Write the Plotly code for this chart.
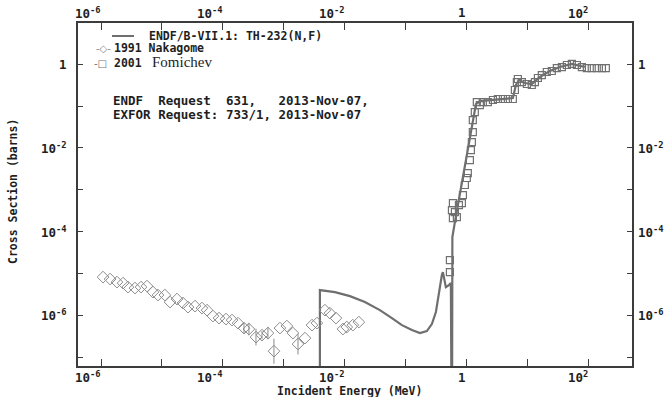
import numpy as np
import plotly.graph_objects as go

# ---------------- data ----------------
# ENDF/B-VII.1 Th-232 (n,f) evaluated curve (MeV, barns); 1e-10 marks drops to zero
endf_e = [0.00394, 0.00394, 0.00695, 0.01227, 0.0216, 0.0381, 0.0600, 0.0876, 0.128, 0.173,
          0.225, 0.272, 0.317, 0.355, 0.397, 0.413, 0.462, 0.518, 0.558, 0.581, 0.591,
          0.650, 0.728, 0.815, 0.914, 1.02, 1.146, 1.28, 1.44, 1.67, 2.44, 4.31, 5.83,
          6.53, 7.31, 9.17, 11.9, 16.2, 23.6, 34.4, 54.2, 88.5]
endf_xs = [1e-10, 3.98e-6, 3.57e-6, 2.86e-6, 2.06e-6, 1.32e-6, 8.53e-7, 5.79e-7, 4.40e-7, 3.73e-7,
           4.17e-7, 6.12e-7, 1.19e-6, 3.57e-6, 9.12e-6, 1.07e-5, 4.70e-6, 5.25e-6, 5.86e-6, 1e-10, 7.40e-5,
           1.69e-4, 4.30e-4, 1.10e-3, 2.65e-3, 6.76e-3, 1.73e-2, 5.19e-2, 0.112, 0.132, 0.140, 0.148, 0.156,
           0.320, 0.421, 0.357, 0.338, 0.497, 0.692, 0.861, 1.02, 0.861]

# 1991 Nakagome
nak_e = [1.08e-6, 1.41e-6, 1.83e-6, 2.30e-6, 2.77e-6, 3.61e-6, 4.54e-6, 5.69e-6, 7.14e-6, 8.63e-6,
         1.12e-5, 1.36e-5, 1.77e-5, 2.22e-5, 2.69e-5, 3.50e-5, 4.55e-5, 5.51e-5, 6.90e-5, 8.67e-5,
         1.13e-4, 1.42e-4, 1.78e-4, 2.23e-4, 2.69e-4, 3.51e-4, 4.41e-4, 5.52e-4, 6.93e-4, 8.69e-4,
         1.13e-3, 1.42e-3, 1.72e-3, 2.24e-3, 2.92e-3, 3.52e-3, 4.76e-3, 5.75e-3, 7.23e-3, 9.42e-3,
         1.09e-2, 1.37e-2, 1.72e-2]
nak_xs = [8.15e-6, 7.31e-6, 6.19e-6, 5.86e-6, 4.70e-6, 4.45e-6, 4.70e-6, 4.97e-6, 3.57e-6, 3.03e-6,
          3.03e-6, 2.06e-6, 2.43e-6, 1.95e-6, 1.56e-6, 1.65e-6, 1.48e-6, 1.32e-6, 9.53e-7, 8.53e-7,
          8.07e-7, 7.64e-7, 6.47e-7, 4.92e-7, 4.66e-7, 2.99e-7, 3.34e-7, 3.73e-7, 1.38e-7, 4.92e-7,
          5.50e-7, 3.73e-7, 2.04e-7, 2.83e-7, 5.79e-7, 6.47e-7, 1.32e-6, 1.12e-6, 8.53e-7, 4.66e-7,
          5.20e-7, 5.79e-7, 6.84e-7]
# uncertainty in decades (log10 half-width)
nak_err_dec = [0, 0, 0, 0, 0, 0, 0, 0, 0, 0,
               0, 0, 0, 0, 0, 0, 0, 0, 0, 0,
               0, 0, 0, 0.12, 0.15, 0.2, 0.1, 0.15, 0.3, 0,
               0, 0, 0.25, 0, 0, 0, 0, 0, 0, 0,
               0, 0, 0]

# 2001 Fomichev
fom_e = [0.538, 0.538, 0.581, 0.603, 0.603, 0.650, 0.701, 0.757, 0.847, 0.880, 0.948, 1.02, 1.06,
         1.146, 1.19, 1.235, 1.28, 1.28, 1.38, 1.49, 1.67, 1.87, 2.26, 2.74, 3.30, 3.99, 4.82, 5.82,
         6.28, 6.77, 7.03, 8.18, 9.89, 11.9, 13.4, 15.0, 17.4, 21.0, 25.4, 30.7, 37.2, 44.9, 54.2,
         65.5, 79.1, 95.5, 115, 139, 169, 196]
fom_xs = [1.07e-5, 2.08e-5, 3.27e-4, 2.10e-4, 4.81e-4, 2.93e-4, 2.22e-4, 4.30e-4, 4.81e-4, 7.47e-4,
          1.30e-3, 1.91e-3, 2.51e-3, 5.14e-3, 8.91e-3, 1.38e-2, 2.40e-2, 4.65e-2, 7.22e-2, 0.125,
          0.106, 0.125, 0.125, 0.140, 0.148, 0.148, 0.148, 0.148, 0.243, 0.377, 0.445, 0.377, 0.338,
          0.320, 0.377, 0.470, 0.554, 0.654, 0.692, 0.815, 0.861, 0.962, 1.02, 0.962, 0.861, 0.815,
          0.815, 0.815, 0.815, 0.815]

x_ticks = [1e-6, 1e-5, 1e-4, 1e-3, 1e-2, 1e-1, 1, 10, 100]
x_labels = ["10<sup>-6</sup>", "", "10<sup>-4</sup>", "", "10<sup>-2</sup>", "", "1", "", "10<sup>2</sup>"]
y_ticks = [1e-7, 1e-6, 1e-5, 1e-4, 1e-3, 1e-2, 1e-1, 1]
y_labels = ["", "10<sup>-6</sup>", "", "10<sup>-4</sup>", "", "10<sup>-2</sup>", "", "1"]

legend_endf = "ENDF/B-VII.1: TH-232(N,F)"
legend_nak = "1991 Nakagome"
legend_fom_year = "2001"
legend_fom_name = "Fomichev"
request_lines = ["ENDF  Request  631,   2013-Nov-07,", "EXFOR Request: 733/1, 2013-Nov-07"]
x_title = "Incident Energy (MeV)"
y_title = "Cross Section (barns)"

# ---------------- layout geometry ----------------
W, H = 670, 397
L, R, T, B = 78, 632, 23, 366
XR = [-6.378, 2.722]
YR = [-7.215, 0.988]


def px(x):
    return (x - L) / (R - L)


def py(y):
    return (B - y) / (B - T)


MONO = "DejaVu Sans Mono"
TXT = "#1e1e1e"
AX = "#3c3c3c"

nak_xs_a = np.array(nak_xs)
dec = np.array(nak_err_dec)
err_plus = nak_xs_a * (10 ** dec - 1)
err_minus = nak_xs_a * (1 - 10 ** (-dec))

fig = go.Figure()
fig.add_trace(go.Scatter(x=endf_e, y=endf_xs, mode="lines",
                         line=dict(color="#6f6f6f", width=2.2), name=legend_endf))
fig.add_trace(go.Scatter(x=nak_e, y=nak_xs, mode="markers", name=legend_nak,
                         marker=dict(symbol="diamond-open", size=9, color="#8c8c8c",
                                     line=dict(width=1, color="#8c8c8c")),
                         error_y=dict(type="data", array=err_plus, arrayminus=err_minus,
                                      color="#8c8c8c", thickness=1, width=0)))
fig.add_trace(go.Scatter(x=fom_e, y=fom_xs, mode="markers", name="2001 Fomichev",
                         marker=dict(symbol="square-open", size=7, color="#707070",
                                     line=dict(width=1.2, color="#707070"))))

ann = []
# x tick labels (right-aligned at tick), bottom and top
for v, t in zip(x_ticks, x_labels):
    if not t:
        continue
    for yy in (py(377), py(13)):
        ann.append(dict(x=np.log10(v), xref="x", y=yy, yref="paper", text="<b>" + t + "</b>",
                        showarrow=False, xanchor="right", yanchor="middle", xshift=2,
                        font=dict(family=MONO, size=12.5, color=TXT)))
# y tick labels, left (right-aligned) and right (left-aligned)
for v, t in zip(y_ticks, y_labels):
    if not t:
        continue
    ann.append(dict(x=px(69), xref="paper", y=np.log10(v), yref="y", text="<b>" + t + "</b>",
                    showarrow=False, xanchor="right", yanchor="middle",
                    font=dict(family=MONO, size=12.5, color=TXT)))
    ann.append(dict(x=px(636), xref="paper", y=np.log10(v), yref="y", text="<b>" + t + "</b>",
                    showarrow=False, xanchor="left", yanchor="middle",
                    font=dict(family=MONO, size=12.5, color=TXT)))
# axis titles
ann.append(dict(x=0.5 * (px(270) + px(428)), xref="paper", y=py(390.5), yref="paper",
                text="<b>" + x_title + "</b>", showarrow=False, xanchor="center", yanchor="middle",
                font=dict(family=MONO, size=11.5, color=TXT)))
ann.append(dict(x=px(13), xref="paper", y=py(192), yref="paper", text="<b>" + y_title + "</b>",
                showarrow=False, xanchor="center", yanchor="middle", textangle=-90,
                font=dict(family=MONO, size=11.5, color=TXT)))
# legend
ann.append(dict(x=px(147), xref="paper", y=py(36), yref="paper", text="<b>" + legend_endf + "</b>",
                showarrow=False, xanchor="left", yanchor="middle",
                font=dict(family=MONO, size=11.5, color=TXT)))
ann.append(dict(x=px(103), xref="paper", y=py(48), yref="paper", text="-◇-",
                showarrow=False, xanchor="center", yanchor="middle",
                font=dict(family="DejaVu Sans", size=10, color="#8c8c8c")))
ann.append(dict(x=px(112), xref="paper", y=py(48), yref="paper", text="<b>" + legend_nak + "</b>",
                showarrow=False, xanchor="left", yanchor="middle",
                font=dict(family=MONO, size=11.5, color=TXT)))
ann.append(dict(x=px(103), xref="paper", y=py(63), yref="paper", text="-□",
                showarrow=False, xanchor="right", yanchor="middle", xshift=6,
                font=dict(family="DejaVu Sans", size=10, color="#707070")))
ann.append(dict(x=px(112), xref="paper", y=py(63), yref="paper", text="<b>" + legend_fom_year + "</b>",
                showarrow=False, xanchor="left", yanchor="middle",
                font=dict(family=MONO, size=11.5, color=TXT)))
ann.append(dict(x=px(150), xref="paper", y=py(62), yref="paper", text=legend_fom_name,
                showarrow=False, xanchor="left", yanchor="middle",
                font=dict(family="Liberation Serif", size=15, color=TXT)))
for i, line in enumerate(request_lines):
    ann.append(dict(x=px(111), xref="paper", y=py(100 + 15 * i), yref="paper",
                    text="<b>" + line.replace(" ", "\u00a0") + "</b>",
                    showarrow=False, xanchor="left", yanchor="middle",
                    font=dict(family=MONO, size=12.5, color=TXT)))

shapes = [dict(type="line", xref="paper", yref="paper", x0=px(112), x1=px(134), y0=py(36), y1=py(36),
               line=dict(color="#6f6f6f", width=2))]

fig.update_layout(
    width=W, height=H,
    margin=dict(l=L, r=W - R, t=T, b=H - B, pad=0),
    paper_bgcolor="white", plot_bgcolor="white",
    showlegend=False,
    annotations=ann, shapes=shapes,
    xaxis=dict(type="log", range=XR, tickvals=x_ticks, ticktext=[""] * len(x_ticks),
               showticklabels=False, ticks="inside", ticklen=7, tickwidth=1.2, tickcolor=AX,
               showline=True, linecolor=AX, linewidth=1.5, mirror="ticks",
               showgrid=False, zeroline=False),
    yaxis=dict(type="log", range=YR, tickvals=y_ticks, showticklabels=False,
               ticks="inside", ticklen=5, tickwidth=1.2, tickcolor=AX,
               showline=True, linecolor=AX, linewidth=1.5, mirror="ticks",
               showgrid=False, zeroline=False),
)

fig.write_html("out.html", config={"displayModeBar": False},
               post_script="document.body.style.margin='0';document.body.style.overflow='hidden';")
